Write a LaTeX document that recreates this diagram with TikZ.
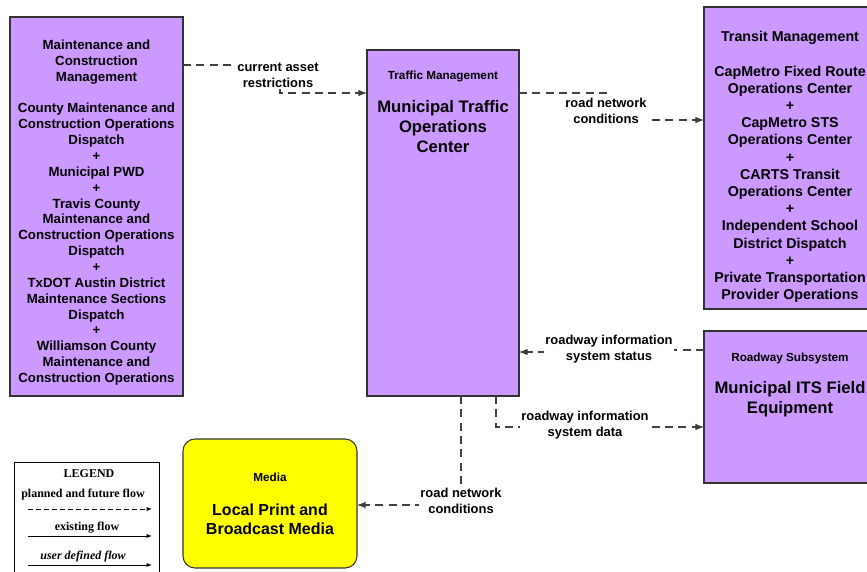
\documentclass[tikz,border=0pt]{standalone}
\usepackage{fontspec}
\setmainfont{Liberation Sans}
\newfontfamily\legfont{Liberation Serif}
\usetikzlibrary{arrows.meta}
\definecolor{boxpurple}{HTML}{CC99FF}
\definecolor{boxyellow}{HTML}{FFFF00}
\begin{document}
\begin{tikzpicture}[x=0.75pt,y=-0.75pt,
  box/.style={draw=black!80, line width=0.8pt, fill=boxpurple, inner sep=0pt, outer sep=0pt, anchor=north west},
  ybox/.style={box, fill=boxyellow, rounded corners=9pt},
  flow/.style={draw=black!75, line width=0.8pt, dash pattern=on 6pt off 4pt, -{Latex[length=6.5pt,width=5pt]}},
  lbl/.style={fill=white, inner sep=1pt, align=center, font=\fontsize{9.7}{12}\selectfont\bfseries},
  body/.style={align=center, inner sep=0pt, anchor=north, font=\fontsize{9.95}{11.9}\selectfont\bfseries},
  tbody/.style={align=center, inner sep=0pt, anchor=north, font=\fontsize{10.7}{12.9}\selectfont\bfseries},
  small/.style={align=center, inner sep=0pt, anchor=north, font=\fontsize{8.8}{11}\selectfont\bfseries},
  big/.style={align=center, inner sep=0pt, anchor=north, font=\fontsize{12.5}{15}\selectfont\bfseries},
  leg/.style={inner sep=0pt, font=\legfont\fontsize{9}{10}\selectfont\bfseries},
  legline/.style={draw=black, line width=0.7pt, -{Latex[length=4pt,width=3pt]}}
]
\useasboundingbox (0,0) rectangle (867,571);
\clip (0,0) rectangle (867,571);

% boxes
\node[box, minimum width=129.75pt, minimum height=284.25pt] (mc) at (10,17) {};
\node[box, minimum width=114pt, minimum height=259.5pt] (tm) at (367,50) {};
\node[box, minimum width=129pt, minimum height=226.5pt] (tr) at (704,7) {};
\node[box, minimum width=129pt, minimum height=114pt] (rs) at (704,331) {};
\node[ybox, minimum width=130.5pt, minimum height=96.75pt] (me) at (183,439) {};
\node[draw=black, line width=0.7pt, fill=white, anchor=north west, inner sep=0pt,
      minimum width=108.75pt, minimum height=90pt] (lg) at (14,462) {};

% box texts
\node[body] (mct) at (96.5,39.5) {Maintenance and\\Construction\\Management\\[11.9pt]
County Maintenance and\\Construction Operations\\Dispatch\\+\\Municipal PWD\\+\\
Travis County\\Maintenance and\\Construction Operations\\Dispatch\\+\\
TxDOT Austin District\\Maintenance Sections\\Dispatch\\+\\Williamson County\\
Maintenance and\\Construction Operations};

\node[small] (tmh) at (443,70.5) {Traffic Management};
\node[big] (tmt) at (443,100.5) {Municipal Traffic\\Operations\\Center};

\node[tbody] (trt) at (790,31) {Transit Management\\[12.9pt]
CapMetro Fixed Route\\Operations Center\\+\\CapMetro STS\\Operations Center\\+\\
CARTS Transit\\Operations Center\\+\\Independent School\\District Dispatch\\+\\
Private Transportation\\Provider Operations};

\node[small] (rsh) at (790,352.5) {Roadway Subsystem};
\node[big] (rst) at (790,381.5) {Municipal ITS Field\\Equipment};

\node[small] (meh) at (270,473) {Media};
\node[big, font=\fontsize{12}{14}\selectfont\bfseries] (met) at (270,504) {Local Print and\\Broadcast Media};

% connectors
\draw[flow] (mc.east |- 0,65) -- (280,65) -- (280,93) -- (tm.west |- 0,93);
\node[lbl] (l1) at (278,75) {current asset\\restrictions};

\draw[flow] (tm.east |- 0,93) -- (607,93) -- (607,120) -- (tr.west |- 0,120);
\node[lbl] (l2) at (606,111) {road network\\conditions};

\draw[flow] (rs.west |- 0,350) -- (609,350) -- (609,352) -- (tm.east |- 0,352);
\node[lbl] (l3) at (609,349) {roadway information\\system status};

\draw[flow] (tm.south -| 496,0) -- (496,427) -- (rs.west |- 0,427);
\node[lbl] (l4) at (585,425) {roadway information\\system data};

\draw[flow] (tm.south -| 461,0) -- (461,505) -- (me.east |- 0,505);
\node[lbl] (l5) at (461,501) {road network\\conditions};

% legend
\node[leg] (lgh) at (89,474) {LEGEND};
\node[leg] (lg1) at (83,495) {planned and future flow};
\draw[legline, dash pattern=on 3.5pt off 2.5pt] (28,509) -- (152,509);
\node[leg] (lg2) at (87,528) {existing flow};
\draw[legline] (28,536) -- (152,536);
\node[leg, font=\legfont\fontsize{9}{10}\selectfont\bfseries\itshape] (lg3) at (83,557) {user defined flow};
\draw[legline] (28,565) -- (152,565);
\end{tikzpicture}
\end{document}
